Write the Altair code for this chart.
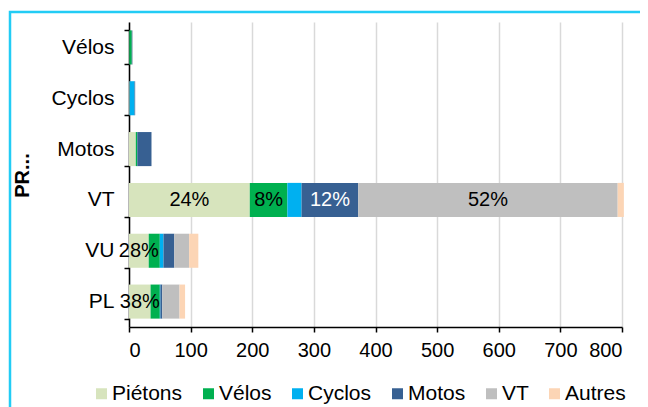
import altair as alt
import pandas as pd

categories = ["Vélos", "Cyclos", "Motos", "VT", "VU", "PL"]
types = ["Piétons", "Vélos", "Cyclos", "Motos", "VT", "Autres"]
colors = ["#d7e4bd", "#00b050", "#00b0f0", "#376092", "#bfbfbf", "#fcd5b5"]

pietons = [0.5, 1, 11, 196, 32, 35]
velos = [4, 0, 2.5, 61, 18, 15]
cyclos = [0, 8, 0, 23, 6, 1]
motos = [1, 1, 23, 92, 17.5, 3]
vt = [0.5, 0, 0, 421, 24, 28]
autres = [0, 0, 0, 10, 15, 9]

# data labels shown in the chart (category, type) -> text
labels = {
    ("VT", "Piétons"): "24%",
    ("VT", "Vélos"): "8%",
    ("VT", "Motos"): "12%",
    ("VT", "VT"): "52%",
    ("VU", "Piétons"): "28%",
    ("PL", "Piétons"): "38%",
}

series = [pietons, velos, cyclos, motos, vt, autres]
rows = []
for ci, cat in enumerate(categories):
    acc = 0.0
    for ti, t in enumerate(types):
        v = series[ti][ci]
        rows.append({"cat": cat, "type": t, "order": ti, "x": acc, "x2": acc + v,
                     "mid": acc + v / 2, "label": labels.get((cat, t), "")})
        acc += v
df = pd.DataFrame(rows)

FONT = "Liberation Sans"

xscale = alt.Scale(domain=[0, 800], nice=False, zero=True)
yscale = alt.Scale(domain=categories, paddingInner=0.33, paddingOuter=0.165)

bars = alt.Chart(df).mark_bar().encode(
    y=alt.Y("cat:N", scale=yscale, sort=categories,
            axis=alt.Axis(title="PR...", titleFont=FONT, titleFontSize=20, titleFontWeight="bold",
                          titleColor="black", titleX=-107, titleY=153, titleAngle=270,
                          titleBaseline="middle", titleAlign="center",
                          labelFont=FONT, labelFontSize=21, labelColor="black", labelPadding=10,
                          tickBand="extent", tickSize=5, tickColor="black", tickWidth=1.5,
                          domainColor="black", domainWidth=1.5, grid=False)),
    x=alt.X("x:Q", scale=xscale,
            axis=alt.Axis(title=None, values=list(range(0, 801, 100)), grid=True,
                          gridColor="#d9d9d9", gridWidth=1.5, labelFont=FONT, labelFontSize=20,
                          labelColor="black", labelPadding=8, tickSize=5, tickColor="black",
                          tickWidth=1.5, domainColor="black", domainWidth=1.5)),
    x2="x2:Q",
    color=alt.Color("type:N", scale=alt.Scale(domain=types, range=colors),
                    legend=alt.Legend(title=None, orient="none", legendX=-38, legendY=361,
                                      direction="horizontal", symbolType="square",
                                      symbolSize=121, symbolStrokeWidth=0,
                                      labelFont=FONT, labelFontSize=21, labelColor="black",
                                      labelOffset=0, columnPadding=15)),
    order=alt.Order("order:Q"),
)

text = alt.Chart(df).transform_filter("datum.label != ''").mark_text(
    font=FONT, fontSize=20, baseline="middle", align="center"
).encode(
    y=alt.Y("cat:N", scale=yscale, sort=categories),
    x=alt.X("mid:Q", scale=xscale),
    text="label:N",
    color=alt.condition("datum.type == 'Motos'", alt.value("white"), alt.value("black")),
)

frame = alt.Chart(alt.Data(values=[{"f": 1}])).mark_rect(
    fillOpacity=0, stroke="#22ccf5", strokeWidth=2.5
).encode(x=alt.value(-119), x2=alt.value(700), y=alt.value(-10), y2=alt.value(600))

chart = alt.layer(frame, bars, text).properties(
    width=493, height=305,
    autosize=alt.AutoSizeParams(type="none"),
    padding={"left": 121, "top": 14, "right": 18, "bottom": 80},
).configure_view(stroke=None)

chart.save("out.html", embed_options={"renderer": "svg", "actions": False})
